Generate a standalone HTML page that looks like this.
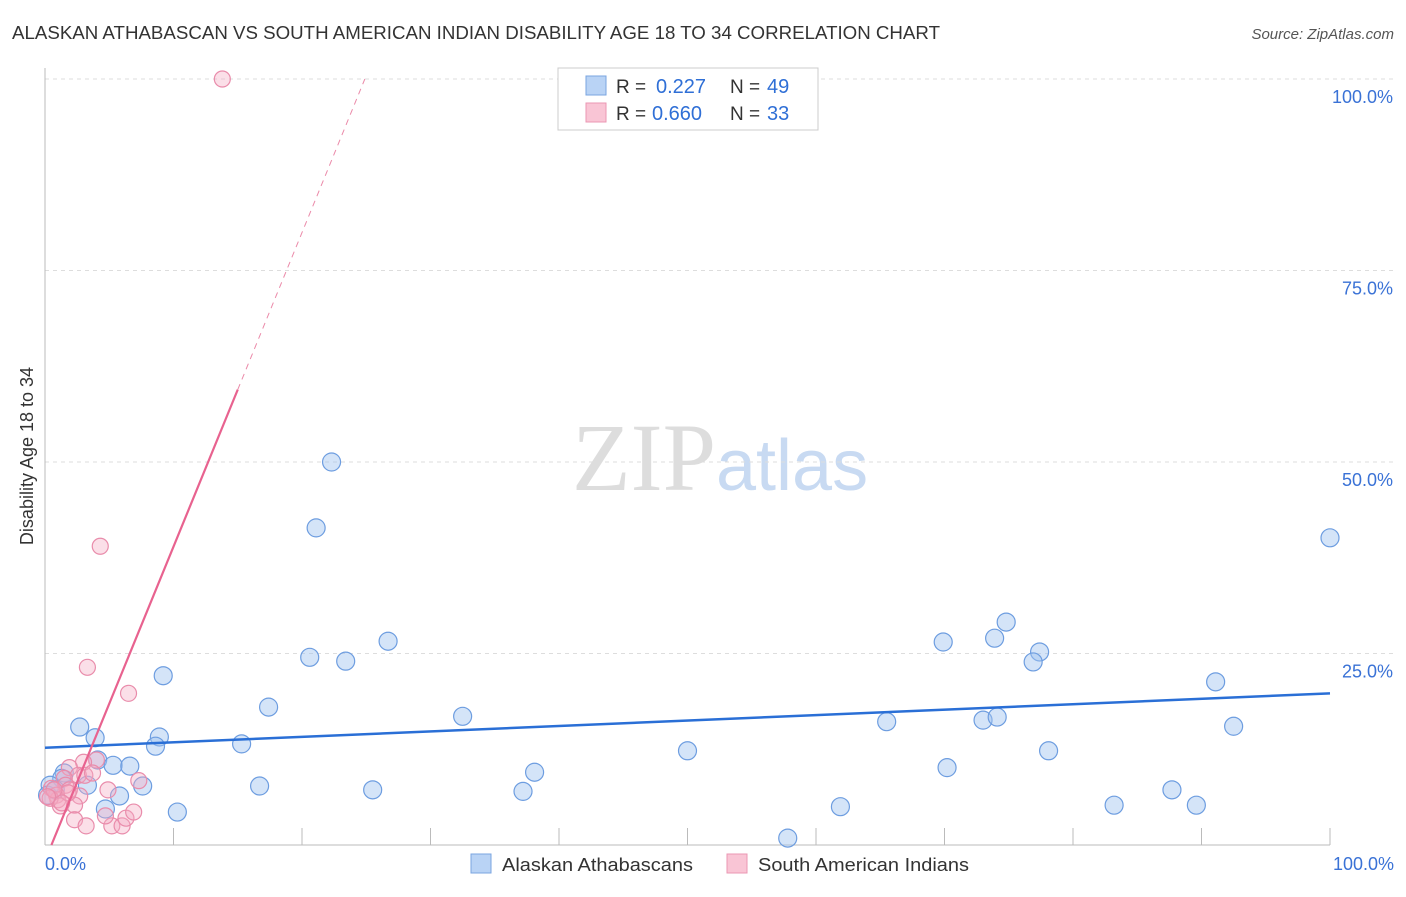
<!DOCTYPE html>
<html><head><meta charset="utf-8"><style>
body{margin:0;background:#fff;font-family:"Liberation Sans",sans-serif}
</style></head><body>
<svg width="1406" height="892" id="c" xmlns="http://www.w3.org/2000/svg">
<text x="12" y="39" font-size="18" fill="#333" textLength="928" lengthAdjust="spacingAndGlyphs">ALASKAN ATHABASCAN VS SOUTH AMERICAN INDIAN DISABILITY AGE 18 TO 34 CORRELATION CHART</text>
<text x="1394" y="39" font-size="15" fill="#555" font-style="italic" text-anchor="end">Source: ZipAtlas.com</text>
<text x="716" y="490" font-size="96" fill="#ddd" text-anchor="end" font-family="Liberation Serif">ZIP</text>
<text x="716" y="490" font-size="72" fill="#c8daf2">atlas</text>
<text transform="translate(33,456) rotate(-90)" font-size="18" fill="#333" text-anchor="middle">Disability Age 18 to 34</text>
<g id="grid"></g><g id="marks"></g>
<g>
<rect x="558" y="68" width="260" height="62" fill="#fff" stroke="#ccc"/>
<rect x="586" y="76" width="20" height="19" fill="#b9d3f5" stroke="#7aa5e0"/>
<rect x="586" y="103" width="20" height="19" fill="#f9c5d5" stroke="#eb97b3"/>
<text x="616" y="93" font-size="19" fill="#333">R =</text>
<text x="656" y="93" font-size="20" fill="#2f6fd6">0.227</text>
<text x="730" y="93" font-size="19" fill="#333">N =</text>
<text x="767" y="93" font-size="20" fill="#2f6fd6">49</text>
<text x="616" y="120" font-size="19" fill="#333">R =</text>
<text x="652" y="120" font-size="20" fill="#2f6fd6">0.660</text>
<text x="730" y="120" font-size="19" fill="#333">N =</text>
<text x="767" y="120" font-size="20" fill="#2f6fd6">33</text>
</g>
<g>
<rect x="471" y="854" width="20" height="19" fill="#b9d3f5" stroke="#7aa5e0"/>
<text x="502" y="871" font-size="18" fill="#333" textLength="191" lengthAdjust="spacingAndGlyphs">Alaskan Athabascans</text>
<rect x="727" y="854" width="20" height="19" fill="#f9c5d5" stroke="#eb97b3"/>
<text x="758" y="871" font-size="18" fill="#333" textLength="211" lengthAdjust="spacingAndGlyphs">South American Indians</text>
</g>
</svg>
<script>
const yTicks=[25,50,75,100];
const yTickLabels=["25.0%","50.0%","75.0%","100.0%"];
const blueX=[22.3,21.1,100,74.8,73.9,69.9,26.7,77.4,20.6,23.4,76.9,9.2,91.1,17.4,32.5,2.7,65.5,73.0,74.1,92.5,3.9,8.9,8.6,15.3,50.0,78.1,4.1,5.3,6.6,70.2,38.1,1.5,1.3,3.3,7.6,16.7,25.5,37.2,5.8,87.7,83.2,89.6,61.9,4.7,10.3,57.8,0.4,0.2,0.8];
const blueY=[50.0,41.4,40.1,29.1,27.0,26.5,26.6,25.2,24.5,24.0,23.9,22.1,21.3,18.0,16.8,15.4,16.1,16.3,16.7,15.5,14.0,14.1,12.9,13.2,12.3,12.3,11.1,10.4,10.3,10.1,9.5,9.4,8.7,7.8,7.7,7.7,7.2,7.0,6.4,7.2,5.2,5.2,5.0,4.7,4.3,0.9,7.8,6.5,7.2];
const pinkX=[13.8,4.3,3.3,6.5,7.3,4.0,3.0,1.9,2.6,1.5,1.6,1.9,0.5,0.9,1.0,0.4,1.2,2.7,3.1,4.9,2.3,2.3,3.2,5.2,6.0,6.3,6.9,4.7,3.7,1.8,1.3,0.7,0.2];
const pinkY=[100,39.0,23.2,19.8,8.4,11.1,10.8,10.1,9.1,8.7,7.8,7.2,7.4,6.5,5.9,6.1,5.1,6.4,9.1,7.2,5.2,3.3,2.5,2.5,2.5,3.5,4.3,3.8,9.4,6.8,5.5,7.2,6.3];
const blueTrend=[12.7,19.8];
const pinkTrend={x0:0.5,slope:4.1,solidEnd:15};
const NS="http://www.w3.org/2000/svg";
const sx=v=>45+v*12.85, sy=v=>845-v*7.66;
function mk(t,a,p){const e=document.createElementNS(NS,t);for(const k in a)e.setAttribute(k,a[k]);p.appendChild(e);return e;}
const g=document.getElementById('grid'),m=document.getElementById('marks');
yTicks.forEach((t,i)=>{
 const l=mk('line',{x1:45,x2:1394,y1:sy(t),y2:sy(t),stroke:'#ddd','stroke-dasharray':'4,4'},g);
 
 
 const tx=mk('text',{x:1393,y:sy(t)+24,'font-size':18,fill:'#3a72d6','text-anchor':'end'},g);tx.textContent=yTickLabels[i];
 
 
});
mk('line',{x1:45,x2:45,y1:68,y2:845,stroke:'#bbb'},g);
mk('line',{x1:45,x2:1330,y1:845,y2:845,stroke:'#bbb'},g);
for(let i=0;i<=10;i++){mk('line',{x1:sx(i*10),x2:sx(i*10),y1:828,y2:845,stroke:'#bbb'},g);}
let t0=mk('text',{x:45,y:870,'font-size':18,fill:'#3a72d6'},g);t0.textContent='0.0%';


let t1=mk('text',{x:1394,y:870,'font-size':18,fill:'#3a72d6','text-anchor':'end'},g);t1.textContent='100.0%';


blueX.forEach((x,i)=>{const c=mk('circle',{cx:sx(x),cy:sy(blueY[i]),r:9,fill:'rgba(160,195,240,0.45)',stroke:'#6d9de0','stroke-width':1.2},m);
 
 });
pinkX.forEach((x,i)=>{const c=mk('circle',{cx:sx(x),cy:sy(pinkY[i]),r:8,fill:'rgba(245,170,195,0.38)',stroke:'#e98cab','stroke-width':1.2},m);
 
 });
const bl=mk('line',{x1:sx(0),y1:sy(blueTrend[0]),x2:sx(100),y2:sy(blueTrend[1]),stroke:'#2a6fd6','stroke-width':2.5},m);


const py=x=>(x-pinkTrend.x0)*pinkTrend.slope;
const xEnd=pinkTrend.x0+100/pinkTrend.slope;
const pl=mk('line',{x1:sx(pinkTrend.x0),y1:sy(0),x2:sx(pinkTrend.solidEnd),y2:sy(py(pinkTrend.solidEnd)),stroke:'#e8628f','stroke-width':2.2},m);


const pd=mk('line',{x1:sx(pinkTrend.solidEnd),y1:sy(py(pinkTrend.solidEnd)),x2:sx(xEnd),y2:sy(100),stroke:'#eb8aa9','stroke-width':1,'stroke-dasharray':'6,5'},m);


</script>
</body></html>
